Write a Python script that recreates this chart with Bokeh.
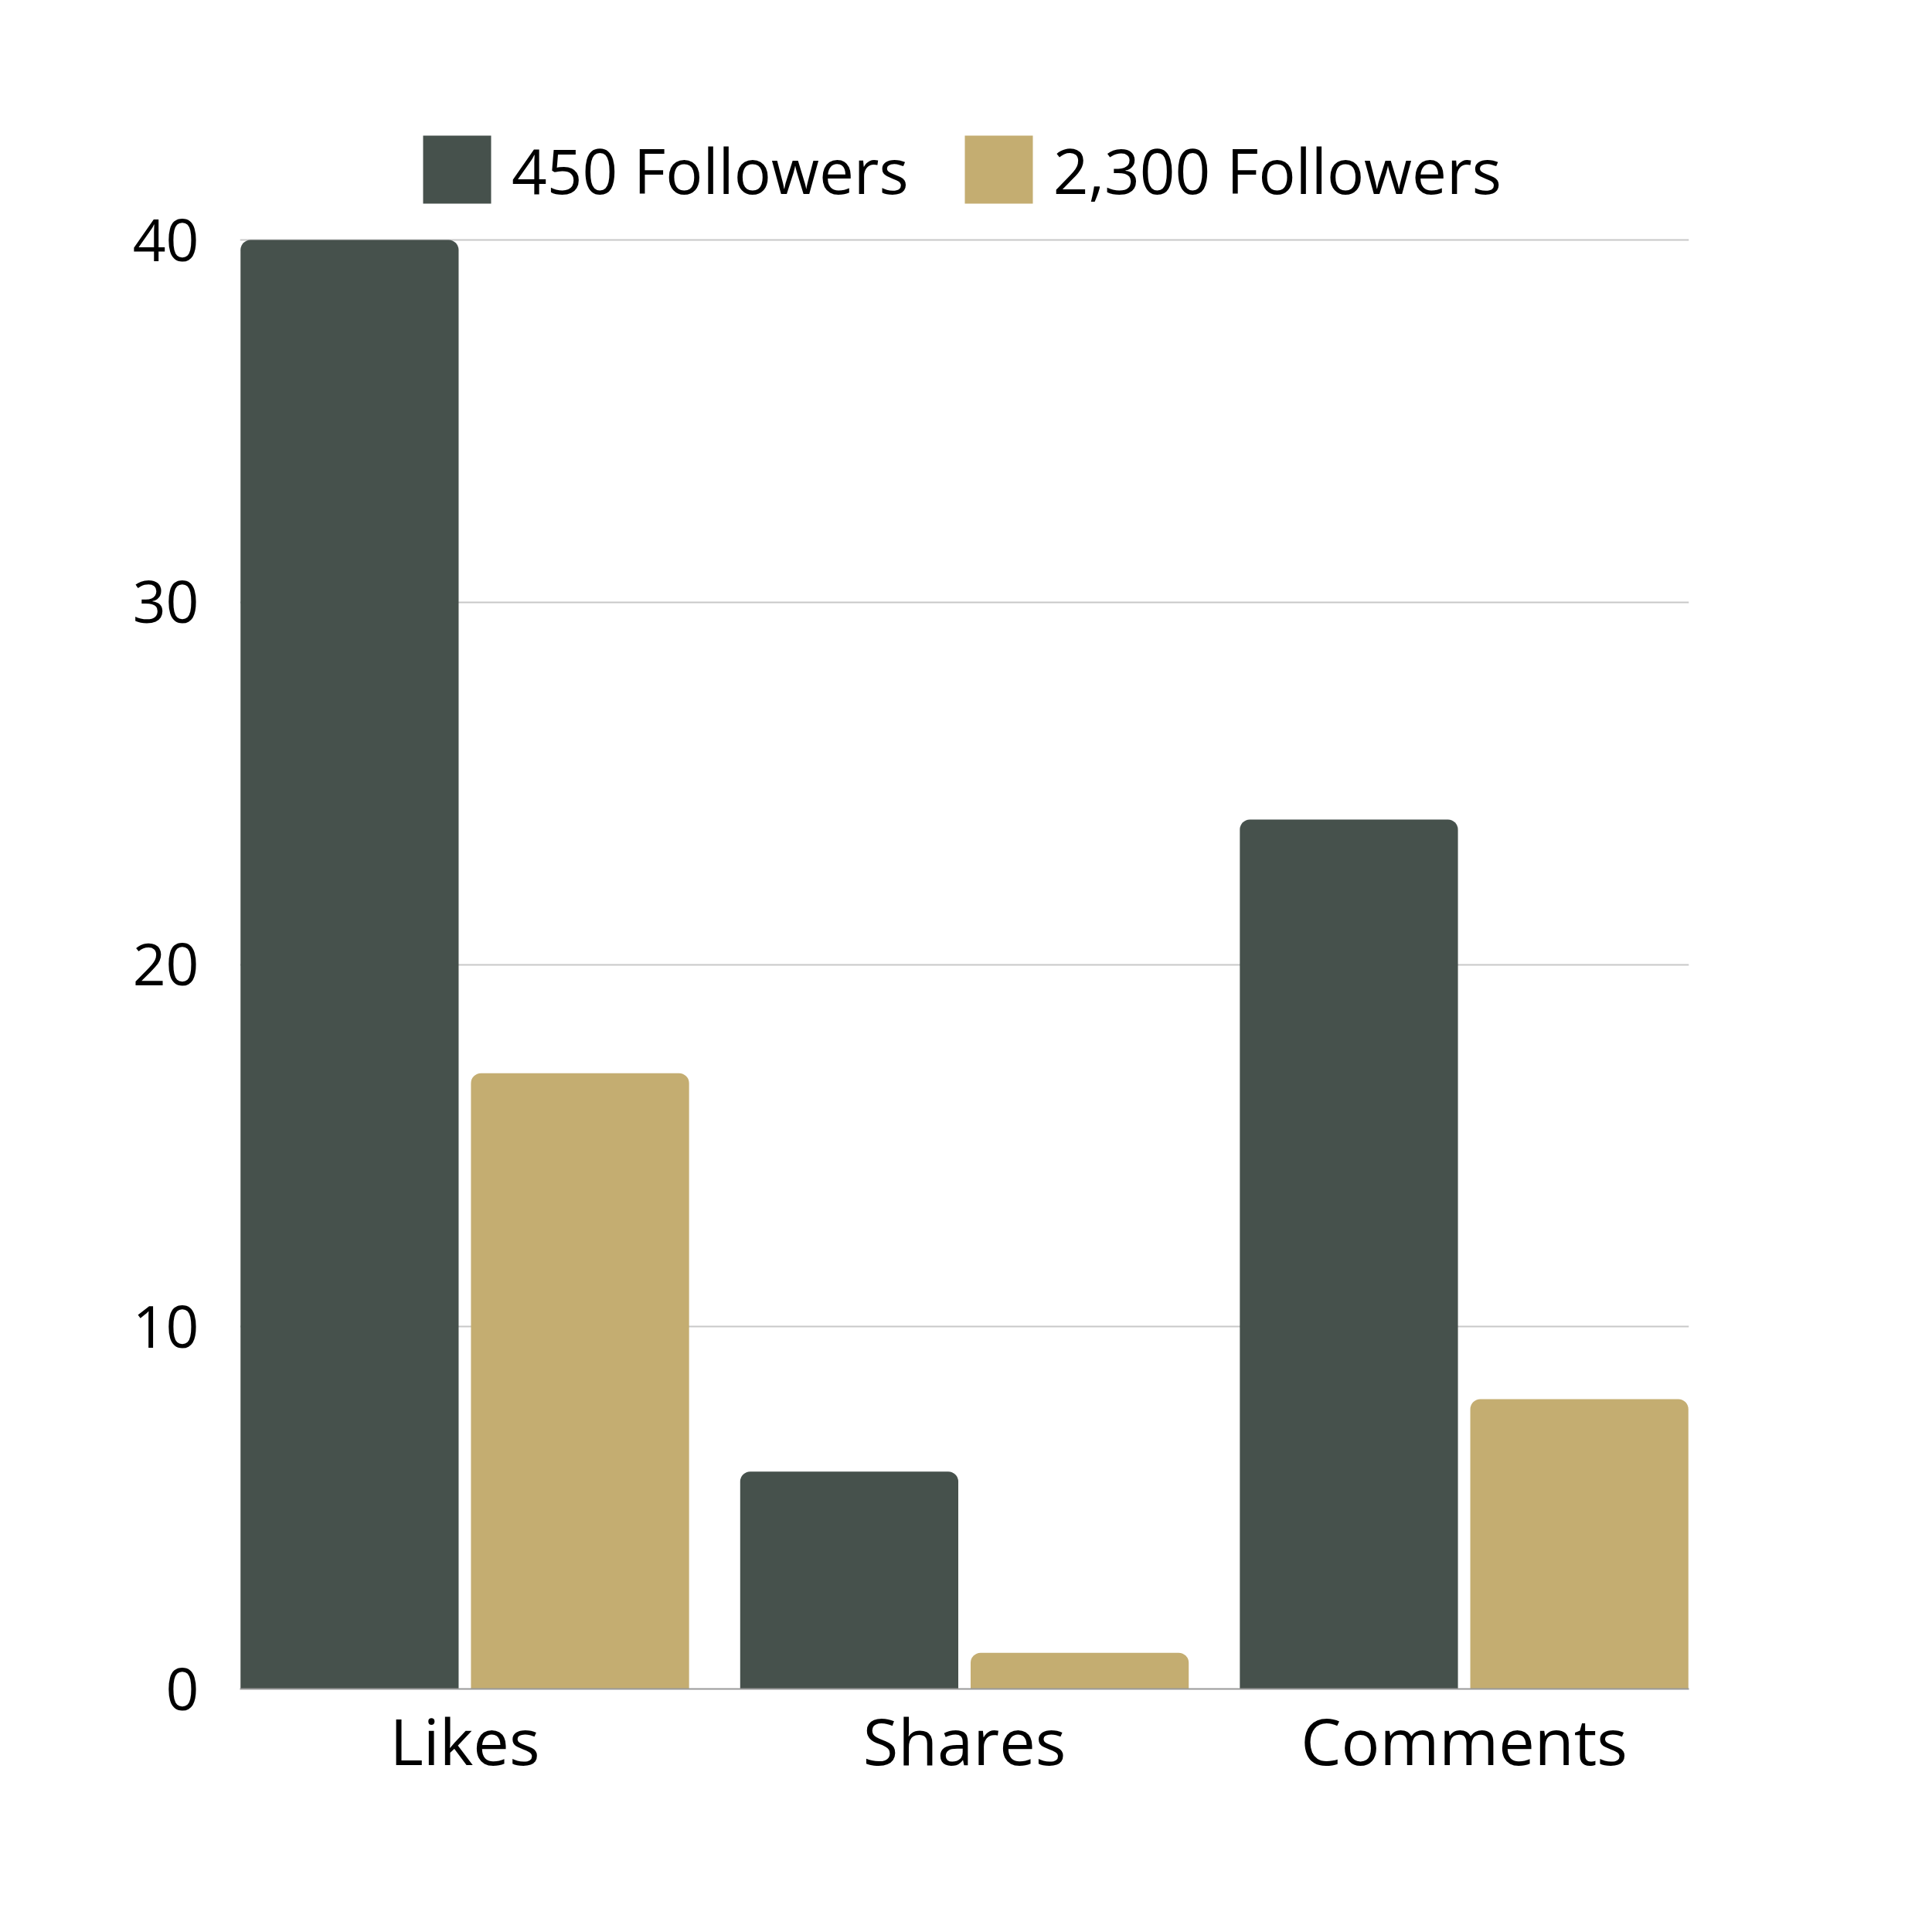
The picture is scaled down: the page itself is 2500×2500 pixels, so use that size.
from bokeh.plotting import figure
from bokeh.models import (ColumnDataSource, FactorRange, Range1d, FixedTicker,
                          Legend, LegendItem)
from bokeh.transform import dodge
from bokeh.embed import file_html
from bokeh.resources import INLINE

# data
categories = ["Likes", "Shares", "Comments"]
followers_450 = [40, 6, 24]
followers_2300 = [17, 1, 8]
y_ticks = [0, 10, 20, 30, 40]

DARK = "#46514c"
TAN = "#c4ad71"
FONT = "Open Sans"

source = ColumnDataSource(data=dict(
    category=categories,
    f450=followers_450,
    f2300=followers_2300,
))

# the frame reaches above the 40 line so the legend fits inside it
plot_h = 1875
extra_top = 212
y_top = 40 * (plot_h + extra_top) / plot_h

p = figure(
    x_range=FactorRange(factors=categories, range_padding=-0.05,
                        range_padding_units="absolute"),
    y_range=Range1d(0, y_top),
    width=2484,
    height=2484,
    min_border_left=310,
    min_border_right=299,
    min_border_top=310 - extra_top,
    min_border_bottom=299,
    toolbar_location=None,
    output_backend="svg",
)

bar_w = 0.4365
offset = 0.2306

r1 = p.vbar(x=dodge("category", -offset, range=p.x_range), top="f450",
            width=bar_w, source=source, fill_color=DARK, line_color=None,
            border_radius=(13, 13, 0, 0))
r2 = p.vbar(x=dodge("category", offset, range=p.x_range), top="f2300",
            width=bar_w, source=source, fill_color=TAN, line_color=None,
            border_radius=(13, 13, 0, 0))

legend = Legend(
    items=[LegendItem(label="450 Followers", renderers=[r1]),
           LegendItem(label="2,300 Followers", renderers=[r2])],
    orientation="horizontal",
    location=(226, plot_h + 36),
    glyph_width=110,
    glyph_height=110,
    label_standoff=16,
    spacing=61,
    padding=0,
    margin=0,
    border_line_color=None,
    background_fill_alpha=0,
    label_text_font=FONT,
    label_text_font_size="80px",
    label_text_color="#000000",
)
p.add_layout(legend)

# axes
p.outline_line_color = None
p.xgrid.grid_line_color = None
p.ygrid.grid_line_color = "#c8c8c8"
p.ygrid.grid_line_width = 2
p.yaxis.ticker = FixedTicker(ticks=y_ticks)
p.yaxis.axis_line_color = None
p.yaxis.major_tick_line_color = None
p.yaxis.minor_tick_line_color = None
p.yaxis.major_label_standoff = 47
p.yaxis.major_label_text_font = FONT
p.yaxis.major_label_text_font_size = "75px"
p.yaxis.major_label_text_color = "#000000"

p.xaxis.axis_line_color = "#999999"
p.xaxis.axis_line_width = 2
p.xaxis.major_tick_line_color = None
p.xaxis.minor_tick_line_color = None
p.xaxis.major_label_standoff = 3
p.xaxis.major_label_text_font = FONT
p.xaxis.major_label_text_font_size = "83px"
p.xaxis.major_label_text_color = "#000000"

open("out.html", "w").write(file_html(p, INLINE))
